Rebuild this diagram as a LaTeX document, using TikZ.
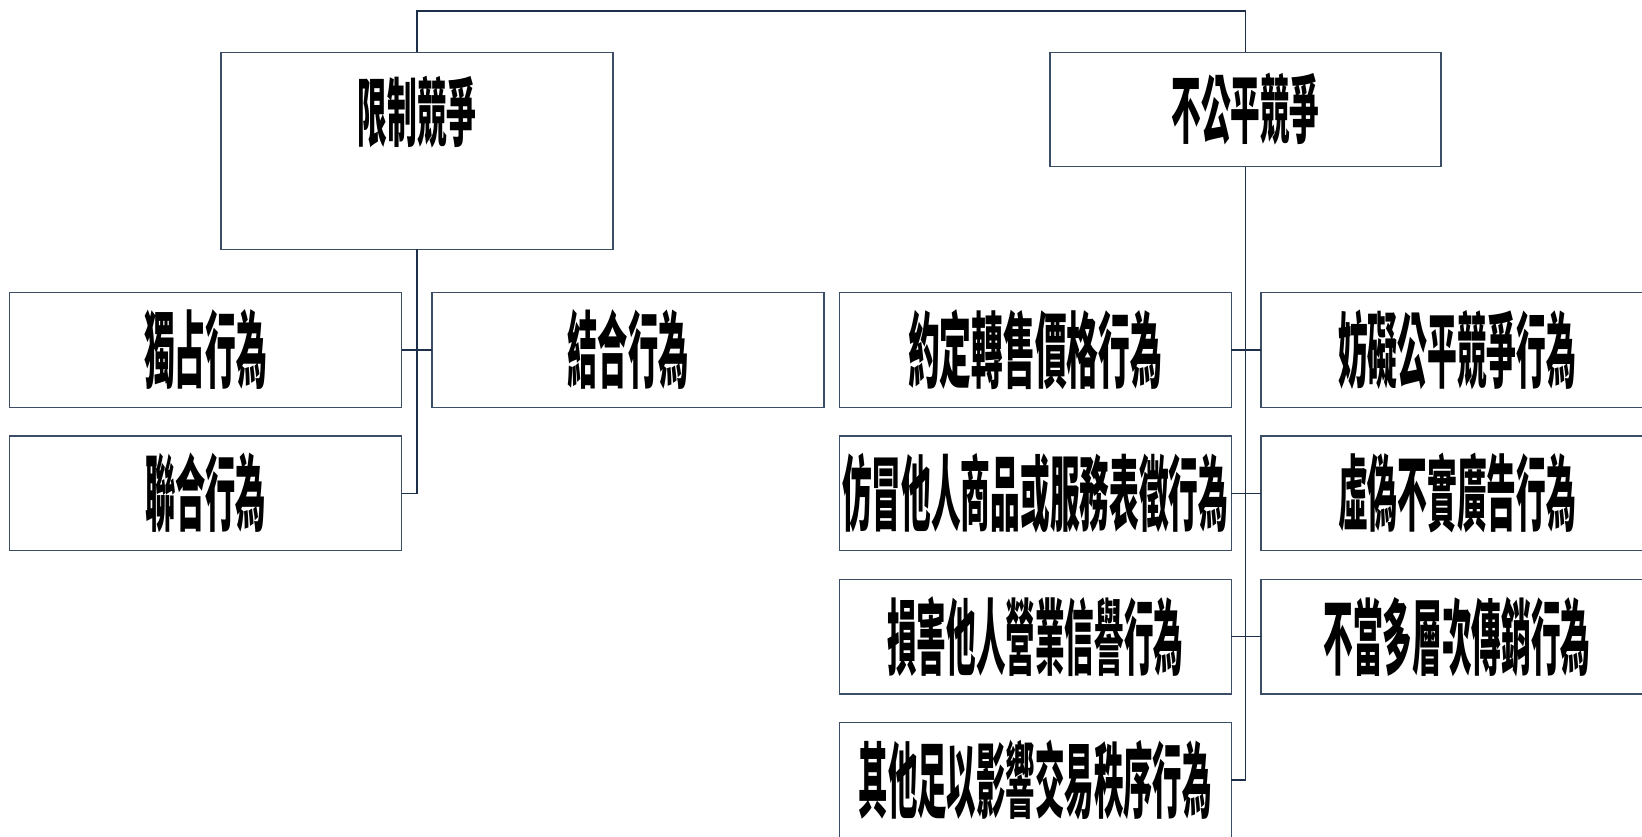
\documentclass[tikz,border=0pt]{standalone}
\usepackage{fontspec}
\newfontfamily\cjk{Noto Sans CJK TC}
\definecolor{linec}{HTML}{1E2F4A}
\definecolor{boxc}{HTML}{3B4E66}
\newcommand{\lab}[3]{\resizebox*{#1pt}{#2pt}{\cjk\bfseries #3}}
\begin{document}
\begin{tikzpicture}[x=1pt,y=-1pt,
  box/.style={draw=boxc, line width=1.3pt, fill=white, minimum width=392pt, minimum height=114.6pt, inner sep=0pt, outer sep=0pt},
  conn/.style={draw=linec, line width=1.3pt},
  lbl/.style={inner sep=0pt}]
\useasboundingbox (0,0) rectangle (1642,837);
% top level
\node[box, minimum height=197pt] (xl) at (417,150.8) {};
\node[lbl] (xlt) at (417,112) {\lab{119}{72}{限制競爭}};
\node[box, minimum width=391pt] (uf) at (1245.5,109.5) {\lab{148}{72}{不公平競爭}};
% left children
\node[box] (d1) at (205.7,350) {\lab{123}{80}{獨占行為}};
\node[box] (d2) at (205.7,493.2) {\lab{121}{80}{聯合行為}};
\node[box] (j1) at (628,350) {\lab{121}{80}{結合行為}};
% right children
\node[box] (r1) at (1035.2,350) {\lab{254}{80}{約定轉售價格行為}};
\node[box] (r2) at (1035.2,493.2) {\lab{386}{80}{仿冒他人商品或服務表徵行為}};
\node[box] (r3) at (1035.2,636.8) {\lab{296}{80}{損害他人營業信譽行為}};
\node[box] (r4) at (1035.2,780) {\lab{353}{80}{其他足以影響交易秩序行為}};
\node[box] (s1) at (1457,350) {\lab{238}{80}{妨礙公平競爭行為}};
\node[box] (s2) at (1457,493.2) {\lab{238}{80}{虛偽不實廣告行為}};
\node[box] (s3) at (1457,636.8) {\lab{267}{80}{不當多層次傳銷行為}};
% connectors
\coordinate (top) at (0,11);
\draw[conn] (xl.north) -- (xl.north |- top) -| (uf.north);
\draw[conn] (xl.south) -- (xl.south |- d2.east) -- (d2.east);
\draw[conn] (d1.east) -- (j1.west);
\draw[conn] (uf.south) -- (uf.south |- r4.east) -- (r4.east);
\draw[conn] (r1.east) -- (s1.west);
\draw[conn] (r2.east) -- (s2.west);
\draw[conn] (r3.east) -- (s3.west);
\end{tikzpicture}
\end{document}
